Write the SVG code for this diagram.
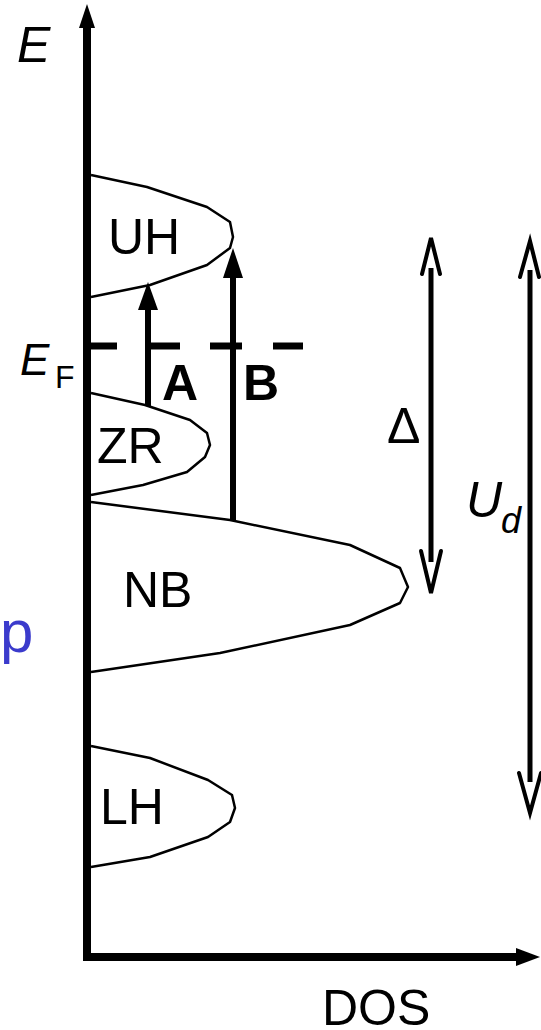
<svg xmlns="http://www.w3.org/2000/svg" width="541" height="1030" viewBox="0 0 541 1030">
<style>
.band{fill:none;stroke:#000;stroke-width:2.5;stroke-linejoin:round}
.lbl{font-family:"Liberation Sans",Arial,sans-serif;font-size:50px;fill:#000}
.it{font-style:italic}
.bold{font-weight:bold}
.shaft{stroke:#000;stroke-width:6;fill:none}
.thin{stroke:#000;stroke-width:5;fill:none}
.chev{stroke:#000;stroke-width:4;fill:none;stroke-linejoin:miter;stroke-linecap:round}
.head{fill:#000}
</style>
<rect width="541" height="1030" fill="#fff"/>
<g id="axes">
  <line x1="87" y1="961" x2="87" y2="25" stroke="#000" stroke-width="8"/>
  <polygon class="head" points="87,4 79,28 95,28"/>
  <line x1="83" y1="957" x2="520" y2="957" stroke="#000" stroke-width="8"/>
  <polygon class="head" points="540,957 516,948 516,966"/>
  <text class="lbl it" x="17" y="62">E</text>
  <text class="lbl" x="322" y="1025">DOS</text>
</g>
<g id="fermi">
  <g stroke="#000" stroke-width="7">
    <line x1="87" y1="346" x2="117" y2="346"/>
    <line x1="145" y1="346" x2="180" y2="346"/>
    <line x1="210" y1="346" x2="242" y2="346"/>
    <line x1="273" y1="346" x2="303" y2="346"/>
  </g>
  <text class="lbl it" x="20" y="375" style="font-size:44px">E</text>
  <text class="lbl" x="55" y="388" style="font-size:32px">F</text>
</g>
<g id="UH">
  <polyline class="band" points="91,175 147,187 207,207 230,222 233,237 230,248 207,265 150,285 91,297"/>
  <text class="lbl" x="108" y="254">UH</text>
</g>
<g id="ZR">
  <polyline class="band" points="91,393 145,405 190,420 207,433 210,445 205,457 187,472 143,485 91,495"/>
  <text class="lbl" x="97" y="463">ZR</text>
</g>
<g id="NB">
  <polyline class="band" points="91,502 230,520 350,545 400,568 408,587 400,603 350,625 220,653 91,672"/>
  <text class="lbl" x="123" y="607">NB</text>
</g>
<g id="LH">
  <polyline class="band" points="91,746 150,758 208,780 232,795 235,808 230,822 208,837 150,857 91,867"/>
  <text class="lbl" x="100" y="824">LH</text>
</g>
<g id="labelA"><text class="lbl bold" x="162" y="400">A</text></g>
<g id="labelB"><text class="lbl bold" x="243" y="400">B</text></g>
<g id="labelDelta"><text class="lbl" x="387" y="443">Δ</text></g>
<g id="labelUd">
  <text class="lbl it" x="466" y="517">U</text>
  <text class="lbl it" x="501" y="533" style="font-size:36px">d</text>
</g>
<g id="labelP"><text class="lbl" x="0" y="652" style="font-size:60px;fill:#3b3bcc">p</text></g>
<g id="connectors">
  <line class="shaft" x1="148" y1="406" x2="148" y2="306"/>
  <polygon class="head" points="148,282 138,310 158,310"/>
  <line class="shaft" x1="233" y1="520" x2="233" y2="274"/>
  <polygon class="head" points="233,248 223,278 243,278"/>
  <line class="thin" x1="431" y1="268" x2="431" y2="562"/>
  <polyline class="chev" points="422,274 431,238 440,274"/>
  <polyline class="chev" points="421,551 431,593 441,551"/>
  <line class="thin" x1="530" y1="270" x2="530" y2="782"/>
  <polyline class="chev" points="520,277 530,241 539,277"/>
  <polyline class="chev" points="519,773 530,813 541,773"/>
</g>
</svg>
